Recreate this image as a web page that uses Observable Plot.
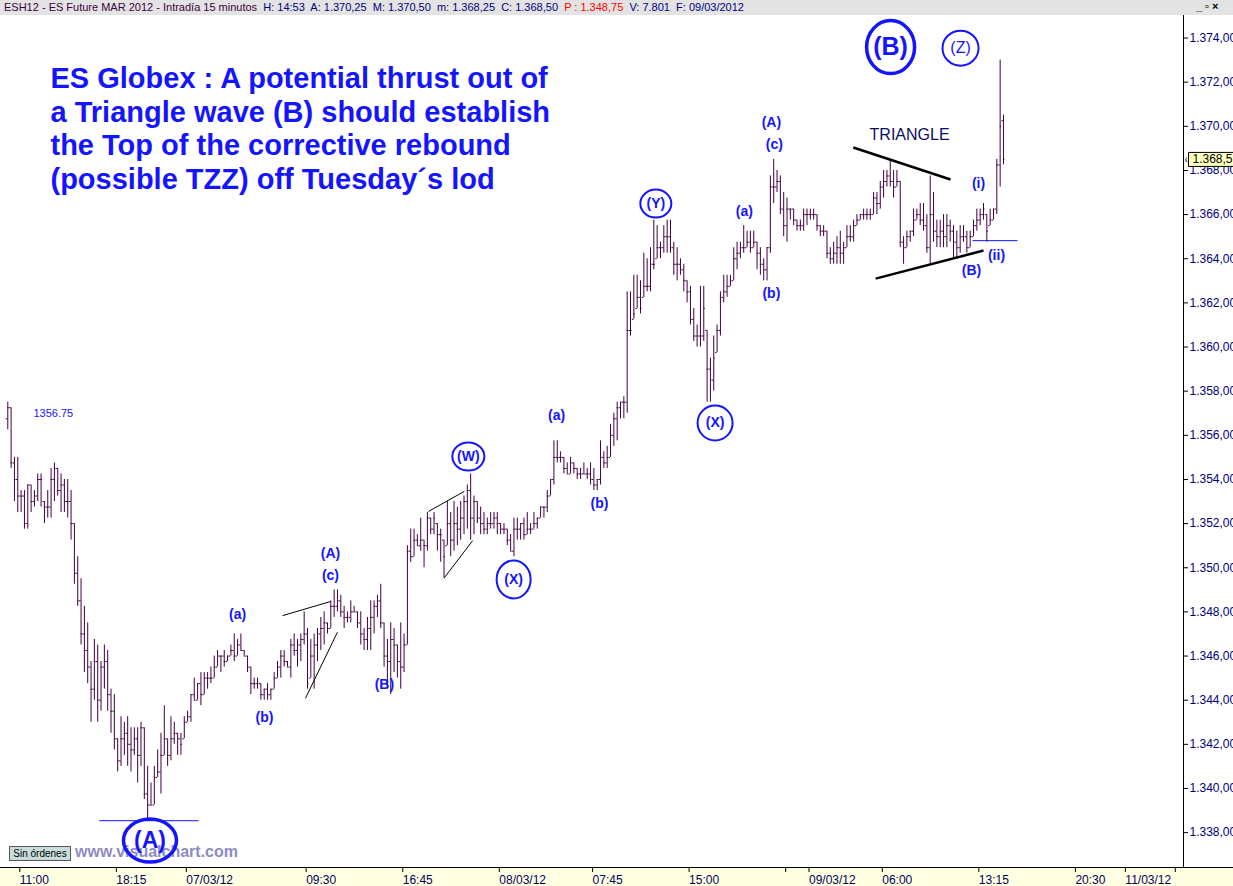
<!DOCTYPE html>
<html>
<head>
<meta charset="utf-8">
<script src="https://cdn.jsdelivr.net/npm/d3@7"></script>
<script src="https://cdn.jsdelivr.net/npm/@observablehq/plot@0.6"></script>
<style>
  body { margin: 0; background: #fff; font-family: Arial, "Liberation Sans", sans-serif; }
  #wrap { position: relative; width: 1233px; height: 886px; overflow: hidden; background: #fff; }
  #hdr { position: absolute; left: 0; top: 0; width: 1233px; height: 15px; background: #e3e3e3;
         font-size: 11px; line-height: 15px; white-space: nowrap; }
  #hdr .t { position: absolute; left: 4px; top: 0; }
  #hdr .ic { position: absolute; left: 1196px; top: -1px; font-size: 11px; font-weight: bold; color: #000; letter-spacing: 3px; }
  #strip { position: absolute; left: 0; top: 867px; width: 1233px; height: 19px; background: #ffffe1;
           border-top: 1px solid #000; box-sizing: border-box; }
  #rline { position: absolute; left: 1183px; top: 15px; width: 1px; height: 852px; background: #000; }
  #chart { position: absolute; left: 0; top: 17px; }
  #sin { position: absolute; left: 9px; top: 846px; width: 62px; height: 15px; background: #c9dcdc;
         border: 1px solid #556; box-sizing: border-box; font-size: 10px; line-height: 13px; text-align: center; color: #000; }
  #wm { position: absolute; left: 75px; top: 843px; font-size: 16px; font-weight: bold; color: #8c8cc4; }
</style>
</head>
<body>
<div id="wrap">
  <div id="hdr">
    <span class="t"><span style="color:#400040">ESH12 - ES Future MAR 2012 - Intradía 15 minutos</span>&nbsp; <span style="color:#000080">H: 14:53&nbsp; A: 1.370,25&nbsp; M: 1.370,50&nbsp; m: 1.368,25&nbsp; C: 1.368,50</span>&nbsp; <span style="color:#ff0000">P : 1.348,75</span>&nbsp; <span style="color:#000080">V: 7.801&nbsp; F: 09/03/2012</span></span>
    <span class="ic">_▫×</span>
  </div>
  <div id="strip"></div>
  <div id="rline"></div>
  <div id="wm">www.visualchart.com</div>
  <div id="sin">Sin órdenes</div>
  <div id="chart"></div>
</div>
<script>
// ---------------- DATA (15-minute bars, ESH12) ----------------
const open = [
1356.75,1357.25,1354.75,1354,1353.25,1353.25,1352,1353.75,1353,1353.25,
1354,1353,1352.75,1352.75,1354,1354.5,1353.5,1353.75,1353,1353,
1352,1349.75,1348.5,1347,1346.25,1345.5,1344.5,1345.75,1344,1345.5,
1345.75,1344.25,1343.5,1342.25,1341.25,1342.25,1342.5,1342,1341.75,1342.25,
1341.5,1342.75,1339.75,1339.25,1339.25,1340.5,1340.75,1341.5,1342.25,1341.5,
1342.25,1342.5,1342.25,1342.25,1343,1343.25,1344.25,1344,1344.75,1344.25,
1345,1345,1345,1345.5,1346,1346,1345.75,1346,1346.25,1346,
1346.5,1346.25,1346,1345.5,1344.75,1344.75,1344.75,1344.25,1344.5,1344.25,
1344.5,1345,1345.5,1346,1345.75,1345.5,1346.5,1346.25,1346.5,1346.75,
1347,1345,1346,1346.5,1347,1347.25,1347.5,1347.25,1348.25,1348.25,
1348.5,1348,1347.75,1347.75,1348,1348,1347.5,1347,1346.75,1347.25,
1347.75,1348.25,1348.5,1347.5,1346,1345.75,1346.75,1346.5,1345.75,1345.5,
1346.5,1350.75,1350.5,1351.25,1351,1351.25,1351,1352.25,1351.75,1352,
1351.5,1351.25,1351,1352,1351.25,1352,1351.75,1352.25,1353,1353.5,
1352.25,1353,1352.25,1352,1351.75,1352,1352,1352.25,1352,1351.75,
1351.75,1351.25,1350.75,1351.75,1351.75,1352,1351.5,1351.75,1351.75,1352,
1352.25,1352.75,1352.75,1353.25,1354,1355,1355,1355,1354.5,1354.25,
1354.75,1354.5,1354.25,1354.25,1354.25,1354.25,1354,1353.75,1354,1355,
1354.75,1355,1356,1356.75,1357.25,1357.5,1357.5,1360.75,1361.25,1361.75,
1362.25,1362.25,1362.75,1362.75,1363.75,1364,1364.5,1364.5,1365,1365,
1364.5,1363.75,1363.75,1363.5,1363,1362.5,1361.25,1360.5,1360.5,1360.5,
1360.75,1359,1358.5,1359.75,1360.75,1362.25,1362.5,1362.75,1363,1364,
1364.25,1364.5,1364.5,1364.75,1364.5,1364.75,1364.25,1363.75,1363.5,1364.5,
1367.25,1367.25,1367.5,1366.25,1365.5,1366.25,1366.25,1365.75,1365.5,1365.5,
1366,1366,1366,1366,1365.5,1365.25,1365.25,1364.25,1364,1364.25,
1364.5,1364.25,1364.5,1365,1365,1365.5,1365.75,1366,1366,1366,
1366,1366.75,1366.5,1367.25,1367.5,1367.75,1367.5,1367.25,1367.5,1364.75,
1364.5,1365,1365.25,1365.75,1366,1365.75,1365.5,1364.5,1366,1365.25,
1365,1365.25,1365,1365.5,1365.25,1364.75,1364.5,1365,1365,1364.5,
1365,1365.5,1365.75,1366,1366,1365.5,1365.75,1366.25,1368.25,1370.25];

const high = [
1357.5,1357.25,1355,1355,1353.5,1353.5,1353.75,1353.75,1353.5,1354.25,
1354.25,1353,1353.5,1354.5,1354.75,1354.5,1354.25,1354,1354,1353.5,
1352,1350.5,1349.5,1348.25,1347.5,1345.75,1346.75,1346.5,1345.75,1346.5,
1346.25,1344.5,1344.25,1342.25,1343.25,1343,1343.25,1342.75,1342.75,1342.75,
1343,1342.75,1341,1340.25,1341,1341.75,1342.5,1343.75,1342.25,1343.25,
1343,1342.5,1342.5,1343.25,1343.5,1344.25,1345,1344.75,1345.25,1345.25,
1345.25,1345.5,1346,1346.25,1346,1346.25,1346,1346.5,1347,1346.75,
1347,1346.25,1346,1345.5,1345,1345,1344.75,1344.5,1344.75,1344.5,
1345.25,1345.75,1346.25,1346.25,1345.75,1346.75,1347,1346.75,1347,1348,
1347.25,1346.75,1347,1347.25,1347.75,1348,1347.5,1348.5,1349,1349,
1348.75,1348.25,1348,1348.5,1348.25,1348,1348,1347.25,1347.75,1348.5,
1348.5,1348.75,1349.25,1347.5,1346.75,1347.5,1347.25,1346.5,1347.5,1347,
1351,1351.75,1351.75,1351.5,1352.25,1351.25,1352.5,1352.25,1352.5,1352,
1351.75,1351.25,1353,1352.5,1353,1352.75,1353,1353.25,1353.75,1354.25,
1353.25,1353,1352.75,1352.5,1352.25,1352.5,1352.5,1352.5,1352,1352,
1351.75,1351.5,1352.25,1352.25,1352,1352.25,1352.5,1352,1352.5,1352.25,
1352.75,1352.75,1353.5,1354,1355.75,1355.75,1355.25,1355,1354.75,1355,
1354.75,1354.5,1354.5,1354.75,1354.5,1354.75,1354.5,1354,1355.75,1355.25,
1355.5,1356.5,1357,1357.5,1357.5,1357.75,1362.5,1362.5,1363.25,1363.25,
1363,1364.25,1364,1364.5,1365.75,1365.5,1364.75,1365.5,1365.75,1365.75,
1364.75,1364.5,1364,1363.75,1363,1362.75,1361.75,1361,1362.75,1362.75,
1360.75,1359.5,1360.5,1361,1362.5,1363.25,1363.25,1363.25,1364.5,1364.75,
1364.75,1365.5,1365.25,1365.25,1365.25,1364.75,1364.5,1364,1364.5,1367.75,
1368.5,1368,1367.75,1367,1366.75,1366.25,1366.25,1365.75,1365.75,1366.25,
1366.25,1366.25,1366.25,1366,1365.5,1365.5,1365.25,1364.5,1364.75,1365,
1365.25,1364.75,1365.5,1365.5,1365.75,1366,1366,1366.25,1366.25,1366.25,
1367,1367,1367.5,1368,1368,1368.5,1368,1368,1367.5,1365,
1365.25,1365.25,1366.25,1366.25,1366.5,1366.5,1366,1367.75,1367,1365.75,
1365.75,1366,1366,1365.75,1365.5,1365.25,1365.5,1365.5,1365.25,1365.25,
1365.75,1366.25,1366.25,1366.5,1366,1366.25,1366.25,1368.5,1373,1370.5];

const low = [
1356.25,1354.5,1353,1352.5,1352.5,1351.75,1351.75,1352.5,1352.75,1353,
1352.75,1352,1352.25,1352.25,1353,1353.25,1352.5,1352.5,1352.25,1351.25,
1349.25,1348.25,1346.5,1345.25,1344.75,1343,1344,1343,1343.5,1344.5,
1343.5,1342.5,1341.75,1340.75,1341,1341.5,1341,1340.75,1341.5,1340.25,
1341,1339.5,1338.5,1339.25,1339.25,1340.5,1339.75,1341.5,1341,1341.25,
1342,1341.5,1341.5,1342.25,1343,1343,1344,1344,1343.75,1344.25,
1344.5,1344.75,1345,1345.5,1345.25,1345.5,1345.75,1346,1345.75,1346,
1346.25,1346,1345.25,1344.25,1344.5,1344.5,1344,1344,1344,1344,
1344.5,1345,1345,1345.5,1345.5,1345,1346,1345.5,1345.75,1346.5,
1344.5,1345,1344.5,1345.75,1346.25,1346.5,1347,1347.25,1347.75,1348,
1347.75,1347.25,1347.5,1347.5,1348,1347.25,1346.5,1346.25,1346.25,1346.25,
1347,1347.75,1347.25,1345.5,1344.5,1344.25,1345.25,1345,1344.5,1345.25,
1346.5,1350.25,1350.5,1351,1350.75,1350,1350.75,1351.5,1351.5,1350.75,
1350.25,1349.5,1351,1350.5,1350.75,1351,1351.25,1351.5,1351.75,1351.25,
1351.5,1352,1351.5,1351.5,1351.5,1351.75,1351.75,1351.5,1351.5,1351.5,
1351,1350.75,1350.5,1351.25,1351.25,1351.25,1351.5,1351.5,1351.75,1351.75,
1352.25,1352.25,1352.5,1353.25,1353.75,1354.75,1354.75,1354.25,1354.25,1354.25,
1354.25,1354,1354,1354.25,1354,1353.75,1353.5,1353.5,1353.75,1354.5,
1354.5,1355,1355.5,1355.75,1356.75,1356.75,1357,1360.5,1361.25,1361.75,
1361.5,1362.25,1362.5,1362.5,1363.5,1364,1364,1364.25,1364.25,1364.25,
1363.25,1363,1363.25,1362.5,1362,1361,1360.25,1360,1360,1360.25,
1357.5,1357.5,1358,1359.75,1360.5,1362,1362.25,1362.75,1363,1363.5,
1364,1364.25,1364.5,1364.25,1364.5,1363.5,1363.25,1363,1363,1364.25,
1366.5,1367,1366,1365,1364.75,1365.75,1365.5,1365.25,1365.25,1365.25,
1365.5,1365.75,1365.75,1365.25,1365,1365,1364,1363.75,1363.75,1363.75,
1363.75,1363.75,1364.5,1364.75,1364.75,1365.5,1365.75,1365.75,1365.75,1365.75,
1366,1366,1366.25,1366.75,1367.25,1367.25,1366.75,1367.25,1364.5,1363.75,
1364.5,1364.75,1365,1365.75,1365.5,1365.25,1364.25,1363.75,1364.75,1364.5,
1364.5,1364.5,1364.5,1364.75,1364,1364,1364.25,1364.75,1364.25,1364.5,
1365,1365.25,1365.5,1365.75,1364.75,1365.5,1365.75,1366,1367.25,1368.25];

const close = [
1357.25,1354.75,1354,1353.25,1353.25,1352,1353.75,1353,1353.25,1354,
1354,1352.75,1352.75,1354,1354.5,1353.5,1353.75,1353,1353,1352,
1349.75,1348.5,1347,1346.25,1345.5,1344.5,1345.75,1344,1345.5,1345.75,
1344.25,1343.5,1342.25,1341.25,1342.25,1342.5,1342,1341.75,1342.25,1341.5,
1342.75,1339.75,1339.25,1339.25,1340.5,1340.75,1341.5,1342.25,1341.5,1342.25,
1342.5,1342.25,1342,1343,1343.25,1344.25,1344,1344.75,1344.25,1345,
1345,1345,1345.5,1346,1346,1345.75,1346,1346.25,1346,1346.5,
1346.25,1346,1345.5,1344.75,1344.75,1344.75,1344.25,1344.5,1344.25,1344.5,
1345,1345.5,1346,1345.75,1345.5,1346.5,1346.25,1346.5,1346.75,1347,
1344.75,1346,1346.5,1347,1347.25,1347.5,1347.25,1348.25,1348.25,1348.5,
1348,1347.75,1347.75,1348,1348,1347.5,1347,1346.75,1347.25,1347.75,
1348.25,1348.5,1347.5,1346,1345.75,1346.75,1346.5,1345.75,1345.5,1346.5,
1350.75,1350.5,1351.25,1351,1351.25,1351,1352.25,1351.75,1352.25,1351.5,
1351.5,1350.5,1352,1351.25,1352,1351.75,1352.25,1353,1353.5,1352.25,
1353,1352.25,1352,1351.75,1352,1352,1352.25,1352,1351.75,1351.75,
1351.25,1350.75,1351.75,1351.75,1352,1351.5,1351.75,1351.75,1352,1352.25,
1352.75,1352.75,1353.25,1354,1355,1355,1355,1354.5,1354.25,1354.75,
1354.5,1354.25,1354.25,1354.25,1354.25,1354,1353.75,1354,1355,1354.75,
1355,1356,1356.75,1357.25,1357.5,1357.5,1360.75,1360.75,1361.5,1362.25,
1361.75,1362.75,1362.75,1363.75,1363.75,1364.5,1364.5,1365,1365,1364.5,
1363.75,1363.75,1363.5,1363,1362.5,1361.25,1360.5,1360.5,1360.5,1361.75,
1359,1358.5,1359.5,1360.75,1362.25,1362.5,1362.75,1363,1364,1364.25,
1364.5,1364.5,1364.75,1364.5,1364.75,1364.25,1363.75,1363.5,1364.5,1367.25,
1367.25,1367.5,1366.25,1365.5,1366.25,1366.25,1365.75,1365.5,1365.5,1366,
1366,1366,1366,1365.5,1365.25,1365.25,1364.25,1364,1364.25,1364.5,
1364.25,1364.5,1365,1365,1365.5,1365.75,1366,1366,1366,1366,
1366.75,1366.5,1367.25,1367.5,1367.75,1367.5,1367.25,1367.5,1364.75,1364.5,
1365,1365.25,1365.75,1366,1365.75,1365.5,1364.5,1366,1365.25,1365,
1365.25,1365,1365.5,1365.25,1364.75,1364.5,1365,1365,1364.5,1365,
1365.5,1365.75,1366,1366.25,1365.25,1365.75,1366.25,1368.25,1370,1368.5];

// x axis: bar index of each time label
const tickIdx = [3, 32, 53, 89, 118, 147, 175, 204, 233, 240, 262, 291, 320, 335, 350];
const tickLbl = ["11:00","18:15","07/03/12","09:30","16:45","08/03/12","07:45","15:00","","09/03/12","06:00","13:15","20:30","11/03/12",""];
// y axis ticks
const yTicks = [1338,1340,1342,1344,1346,1348,1350,1352,1354,1356,1358,1360,1362,1364,1366,1368,1370,1372,1374];

// Elliott wave annotations (bar index, price)
const waveText = ["(a)","(b)","(A)","(c)","(B)","(a)","(b)","(a)","(A)","(c)","(b)","(i)","(ii)","(B)"];
const waveX    = [69.0, 77.1, 96.9, 96.9, 113.1, 164.8, 177.7, 221.2, 229.3, 230.2, 229.3, 291.5, 296.9, 289.4];
const waveY    = [1347.88,1343.23,1350.64,1349.64,1344.69,1356.90,1352.91,1366.14,1370.17,1369.17,1362.42,1367.41,1364.15,1363.47];

const circText = ["(A)","(B)","(W)","(X)","(Y)","(X)","(Z)"];
const circX    = [42.7, 265.1, 138.3, 151.9, 194.6, 212.4, 286.1];
const circY    = [1337.64, 1373.59, 1355.04, 1349.47, 1366.50, 1356.56, 1373.54];

const title = "ES Globex : A potential thrust out of\na Triangle wave (B) should establish\nthe Top of the corrective rebound\n(possible TZZ) off Tuesday´s lod";
const lodLabel = "1356.75";
const triLabel = "TRIANGLE";

// trend lines: [x1, y1, x2, y2]
const blackLines = [
  [253.9, 1369.04, 283.1, 1367.59],
  [260.6, 1363.10, 293.0, 1364.37],
  [82.5, 1347.83, 96.9, 1348.47],
  [89.4, 1344.09, 99.0, 1347.08],
  [126.3, 1352.55, 137.1, 1353.46],
  [131.1, 1349.55, 139.6, 1351.23]
];
const blueLines = [
  [27.5, 1338.54, 57.3, 1338.54],
  [289.7, 1364.82, 303.2, 1364.82]
];

// ---------------- CHART ----------------
const blue = "#1414ff";
const barColor = "#3f003f";
const bars = high.map((h, i) => ({i, o: open[i], h, l: low[i], c: close[i]}));
const waves = waveText.map((t, k) => ({t, x: waveX[k], y: waveY[k]}));
const circs = circText.map((t, k) => ({t, x: circX[k], y: circY[k]}));
const lblMap = new Map(tickIdx.map((d, k) => [d, tickLbl[k]]));
const last = bars[bars.length - 1];
const xDomain = [-2.19, 353.06];

function ellipse(rx, ry) {
  const k = 0.5523;
  return {draw(ctx) {
    ctx.moveTo(rx, 0);
    ctx.bezierCurveTo(rx, ry * k, rx * k, ry, 0, ry);
    ctx.bezierCurveTo(-rx * k, ry, -rx, ry * k, -rx, 0);
    ctx.bezierCurveTo(-rx, -ry * k, -rx * k, -ry, 0, -ry);
    ctx.bezierCurveTo(rx * k, -ry, rx, -ry * k, rx, 0);
    ctx.closePath();
  }};
}
const boxSym = {draw(ctx) { ctx.rect(5, -7, 52, 14); }};
const circStyle = [
  {rx: 26.5, ry: 21.5, w: 3.5, fs: 23, fw: "bold"},
  {rx: 24, ry: 26.5, w: 3.5, fs: 25, fw: "bold"},
  {rx: 16, ry: 14, w: 2, fs: 14, fw: "bold"},
  {rx: 17, ry: 19, w: 2, fs: 14, fw: "bold"},
  {rx: 15.5, ry: 14, w: 2, fs: 14, fw: "bold"},
  {rx: 17.5, ry: 17.5, w: 2, fs: 14, fw: "bold"},
  {rx: 18, ry: 17.5, w: 2, fs: 16, fw: "normal"}
];
const fmtY = d => `${Math.floor(d / 1000)}.${String(d % 1000).padStart(3, "0")},00`;

const circMarks = circs.flatMap((c, k) => [
  Plot.dot([c], {x: "x", y: "y", r: 1, symbol: ellipse(circStyle[k].rx, circStyle[k].ry),
    fill: "none", stroke: blue, strokeWidth: circStyle[k].w}),
  Plot.text([c], {x: "x", y: "y", text: "t", fill: blue, fontSize: circStyle[k].fs, fontWeight: circStyle[k].fw})
]);

const chart = Plot.plot({
  width: 1233, height: 869,
  marginLeft: 0, marginRight: 50, marginTop: 0, marginBottom: 19,
  style: {background: "transparent", fontFamily: "Arial, 'Liberation Sans', sans-serif", overflow: "visible"},
  x: {type: "linear", domain: xDomain},
  y: {domain: [1336.42, 1374.93]},
  marks: [
    Plot.axisY(yTicks, {anchor: "right", tickSize: 4, tickPadding: 2, tickFormat: fmtY,
      fontSize: 12, fill: "#000080", stroke: "#000", label: null}),
    Plot.axisX(tickIdx, {anchor: "bottom", tickSize: 5, tickPadding: 3, tickFormat: d => lblMap.get(d),
      textAnchor: "start", dx: 2, fontSize: 12, fill: "#000060", stroke: "#000", label: null}),
    // OHLC bars
    Plot.ruleX(bars, {x: "i", y1: "l", y2: "h", stroke: barColor, strokeWidth: 1}),
    Plot.ruleY(bars, {y: "o", x1: d => d.i - 0.45, x2: "i", stroke: barColor}),
    Plot.ruleY(bars, {y: "c", x1: "i", x2: d => d.i + 0.45, stroke: barColor}),
    // trend lines
    Plot.link(blackLines, {x1: d => d[0], y1: d => d[1], x2: d => d[2], y2: d => d[3], stroke: "#000",
      strokeWidth: (d, k) => (k < 2 ? 2.5 : 1)}),
    Plot.link(blueLines, {x1: d => d[0], y1: d => d[1], x2: d => d[2], y2: d => d[3], stroke: blue, strokeWidth: 1}),
    // wave labels
    Plot.text(waves, {x: "x", y: "y", text: "t", fill: blue, fontSize: 14, fontWeight: "bold"}),
    ...circMarks,
    Plot.text([triLabel], {x: 270.8, y: 1369.63, text: d => d, fill: "#0c0c66", fontSize: 16}),
    Plot.text([lodLabel], {x: 7.7, y: 1356.99, text: d => d, fill: blue, fontSize: 11, textAnchor: "start"}),
    // title
    Plot.text([title], {frameAnchor: "top-left", dx: 50, dy: 46, text: d => d, textAnchor: "start",
      lineAnchor: "top", lineHeight: 1.17, fontSize: 29, fontWeight: "bold", fill: blue}),
    // last price marker
    Plot.dot([last], {x: xDomain[1], y: "c", r: 1, symbol: boxSym, fill: "#ffffc0", stroke: "#000", strokeWidth: 1}),
    Plot.text([last], {x: xDomain[1], y: "c", text: d => "1.368,5", dx: 9, textAnchor: "start", fill: "#000", fontSize: 12}),
    Plot.text([last], {x: xDomain[1], y: "c", text: d => "‹", dx: 1, textAnchor: "start", fill: "#000", fontSize: 10})
  ]
});
document.getElementById("chart").appendChild(chart);
</script>
</body>
</html>
